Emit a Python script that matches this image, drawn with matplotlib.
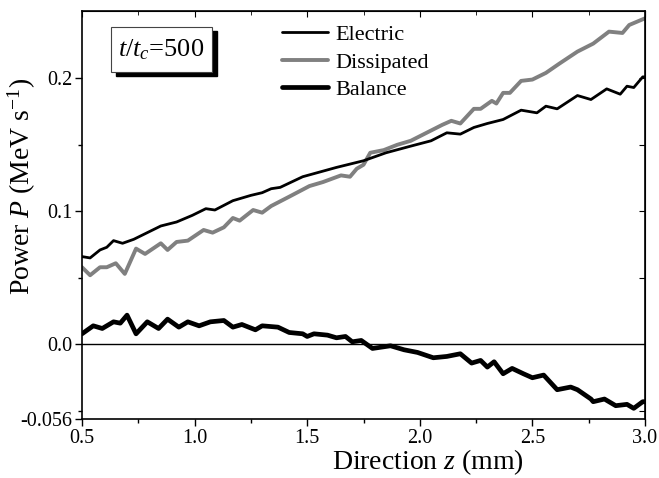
import matplotlib
matplotlib.use("Agg")
import matplotlib.pyplot as plt
from matplotlib.patches import Rectangle

plt.rcParams['font.family'] = ['Liberation Serif', 'DejaVu Serif']
plt.rcParams['mathtext.fontset'] = 'custom'
plt.rcParams['mathtext.rm'] = 'Liberation Serif'
plt.rcParams['mathtext.it'] = 'Liberation Serif:italic'

# Data
z_el = [0.50, 0.536, 0.58, 0.61, 0.64, 0.68, 0.73, 0.79, 0.85, 0.92, 0.99, 1.05, 1.09, 1.17, 1.25, 1.30,
        1.34, 1.38, 1.48, 1.63, 1.75, 1.85, 1.96, 2.05, 2.12, 2.18, 2.24, 2.30, 2.37, 2.45, 2.52, 2.56,
        2.61, 2.70, 2.76, 2.83, 2.89, 2.92, 2.95, 2.99, 3.00]
p_el = [0.066, 0.065, 0.071, 0.073, 0.078, 0.076, 0.079, 0.084, 0.089, 0.092, 0.097, 0.102, 0.101, 0.108,
        0.112, 0.114, 0.117, 0.118, 0.126, 0.133, 0.138, 0.144, 0.149, 0.153, 0.159, 0.158, 0.163, 0.166,
        0.169, 0.176, 0.174, 0.179, 0.177, 0.187, 0.184, 0.192, 0.188, 0.194, 0.193, 0.201, 0.201]

z_di = [0.50, 0.536, 0.58, 0.61, 0.65, 0.69, 0.74, 0.78, 0.85, 0.88, 0.92, 0.97, 1.04, 1.08, 1.13, 1.17,
        1.20, 1.26, 1.30, 1.34, 1.42, 1.51, 1.57, 1.65, 1.69, 1.72, 1.75, 1.78, 1.84, 1.90, 1.96, 2.03,
        2.10, 2.14, 2.18, 2.24, 2.27, 2.32, 2.34, 2.37, 2.40, 2.45, 2.50, 2.56, 2.62, 2.70, 2.77, 2.84,
        2.90, 2.93, 3.00]
p_di = [0.058, 0.052, 0.058, 0.058, 0.061, 0.053, 0.072, 0.068, 0.076, 0.071, 0.077, 0.078, 0.086, 0.084,
        0.088, 0.095, 0.093, 0.101, 0.099, 0.104, 0.111, 0.119, 0.122, 0.127, 0.126, 0.132, 0.135, 0.144,
        0.146, 0.150, 0.153, 0.159, 0.165, 0.168, 0.166, 0.177, 0.177, 0.183, 0.181, 0.189, 0.189, 0.198,
        0.199, 0.204, 0.211, 0.220, 0.226, 0.235, 0.234, 0.240, 0.245]

z_ba = [0.50, 0.55, 0.59, 0.64, 0.67, 0.70, 0.74, 0.79, 0.84, 0.88, 0.93, 0.97, 1.02, 1.07, 1.13, 1.17,
        1.21, 1.27, 1.30, 1.37, 1.42, 1.48, 1.50, 1.53, 1.59, 1.63, 1.67, 1.70, 1.74, 1.79, 1.87, 1.93,
        1.99, 2.06, 2.12, 2.18, 2.23, 2.27, 2.30, 2.33, 2.37, 2.41, 2.46, 2.50, 2.55, 2.61, 2.67, 2.70,
        2.76, 2.77, 2.82, 2.87, 2.92, 2.95, 2.99, 3.00]
p_ba = [0.008, 0.014, 0.012, 0.017, 0.016, 0.022, 0.008, 0.017, 0.012, 0.019, 0.013, 0.017, 0.014, 0.017,
        0.018, 0.013, 0.015, 0.011, 0.014, 0.013, 0.009, 0.008, 0.006, 0.008, 0.007, 0.005, 0.006, 0.002,
        0.003, -0.003, -0.001, -0.004, -0.006, -0.010, -0.009, -0.007, -0.014, -0.012, -0.017, -0.013,
        -0.022, -0.018, -0.022, -0.025, -0.023, -0.034, -0.032, -0.034, -0.041, -0.043, -0.041, -0.046,
        -0.045, -0.048, -0.043, -0.043]

x_ticks = [0.5, 1.0, 1.5, 2.0, 2.5, 3.0]
x_tick_labels = ['0.5', '1.0', '1.5', '2.0', '2.5', '3.0']
y_ticks = [-0.056, 0.0, 0.1, 0.2]
y_tick_labels = ['-0.056', '0.0', '0.1', '0.2']

fig = plt.figure(figsize=(6.59, 4.78), dpi=100)
ax = fig.add_axes([82/659, 1-419/478, (645-82)/659, (419-11)/478])

ax.axhline(0.0, color='black', lw=1.0, zorder=1)
kw = dict(solid_joinstyle='round', solid_capstyle='round')
ax.plot(z_el, p_el, color='black', lw=2.0, label='Electric', zorder=3, **kw)
ax.plot(z_di, p_di, color='#808080', lw=2.8, label='Dissipated', zorder=2, **kw)
ax.plot(z_ba, p_ba, color='black', lw=3.4, label='Balance', zorder=3, **kw)

ax.set_xlim(0.5, 3.0)
ax.set_ylim(-0.056, 0.2505)
ax.set_xticks(x_ticks)
ax.set_xticklabels(x_tick_labels)
ax.set_xticks([0.75, 1.25, 1.75, 2.25, 2.75], minor=True)
ax.set_yticks(y_ticks)
ax.set_yticklabels(y_tick_labels)
ax.set_yticks([-0.05, 0.05, 0.15], minor=True)
ax.tick_params(which='major', direction='out', length=5, width=1, labelsize=14.5, colors='black', pad=2)
ax.tick_params(which='minor', direction='out', length=3, width=1)
for s in ax.spines.values():
    s.set_linewidth(1.2)

top = ax.secondary_xaxis('top')
top.set_xticks(x_ticks)
top.set_xticks([0.75, 1.25, 1.75, 2.25, 2.75], minor=True)
top.tick_params(which='both', direction='in', labeltop=False, length=4)
top.tick_params(which='minor', length=3)
right = ax.secondary_yaxis('right')
right.set_yticks([-0.05, 0.05, 0.1, 0.15, 0.2])
right.tick_params(which='both', direction='in', labelright=False, length=4)

ax.set_xlabel('Direction $z$ (mm)', fontsize=20)
ax.xaxis.set_label_coords((428-82)/563, (419-447)/408)
ax.set_ylabel('Power $P$ (MeV s$^{-1}$)', fontsize=20)
ax.yaxis.set_label_coords((38-82)/563, (419-186)/408)

leg = ax.legend(loc='upper left', bbox_to_anchor=(0.331, 1.0), frameon=False, fontsize=16,
                handlelength=2.1, handletextpad=0.3, labelspacing=0.32, borderaxespad=0.2)

# annotation box with shadow
ax.add_patch(Rectangle((116/659, 1-76/478), 101/659, 45/478, transform=fig.transFigure,
                       facecolor='black', edgecolor='black', zorder=4, clip_on=False))
ax.add_patch(Rectangle((111/659, 1-72/478), 101/659, 45/478, transform=fig.transFigure,
                       facecolor='white', edgecolor='#444444', lw=0.8, zorder=5, clip_on=False))
fig.text(161.5/659, 1-49.5/478, '$t/t_c$=500', fontsize=19, ha='center', va='center', zorder=6)

fig.savefig('out.png', dpi=100)
